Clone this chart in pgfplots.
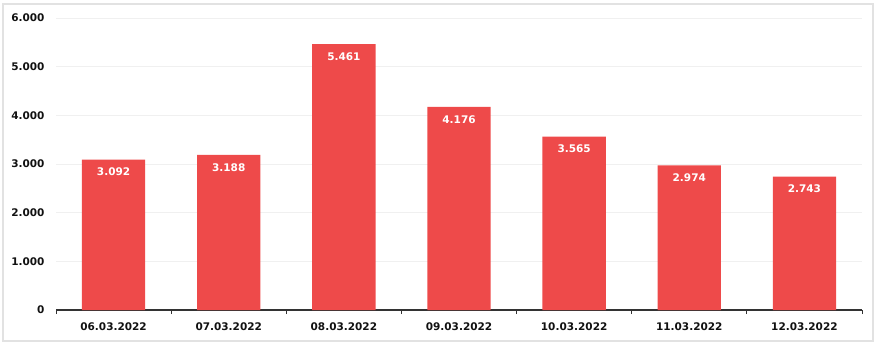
\documentclass[border=0pt]{standalone}
\usepackage{pgfplots}
\pgfplotsset{compat=1.18}
\usepackage{fontspec}
\setmainfont{DejaVu Sans}
\definecolor{barred}{HTML}{EE4A4A}
\definecolor{axisdark}{HTML}{333333}
\definecolor{txt}{HTML}{111111}
\definecolor{bordergray}{HTML}{E2E2E2}
\definecolor{gridgray}{HTML}{F0F0F0}
\begin{document}
\begin{tikzpicture}[x=1pt,y=1pt]
\path[use as bounding box] (-56,-38) rectangle (824,310);
\draw[bordergray, line width=1.2pt] (-53,-31) rectangle (817,306);
\begin{axis}[
  at={(0,0)}, anchor=south west,
  scale only axis,
  width=806pt, height=292pt,
  xmin=-0.5, xmax=6.5,
  ymin=0, ymax=6000,
  axis x line*=bottom,
  axis y line*=left,
  y axis line style={draw=none},
  x axis line style={draw=axisdark, line width=1.3pt},
  ytick={0,1000,...,6000},
  ytick style={draw=none},
  xtick={0,...,6},
  xticklabels={06.03.2022,07.03.2022,08.03.2022,09.03.2022,10.03.2022,11.03.2022,12.03.2022},
  major x tick style={draw=none},
  minor xtick={-0.5,0.5,...,6.5},
  minor x tick style={draw=axisdark, line width=1pt},
  minor tick length=4pt,
  xtick align=outside,
  ymajorgrids,
  grid style={draw=gridgray, line width=0.8pt},
  tick label style={font=\fontsize{10.5}{12}\selectfont\bfseries, text=txt},
  xticklabel style={yshift=-4.5pt},
  yticklabel style={xshift=-8pt},
  /pgf/number format/.cd, 1000 sep={.}, assume math mode=true,
]
\addplot[ybar, bar width=0.55, fill=barred, draw=none,
  nodes near coords,
  nodes near coords style={font=\fontsize{10.5}{12}\selectfont\bfseries, text=white, anchor=north, yshift=-5pt, /pgf/number format/1000 sep={.}, /pgf/number format/assume math mode=true},
] coordinates {(0,3092) (1,3188) (2,5461) (3,4176) (4,3565) (5,2974) (6,2743)};
\end{axis}
\end{tikzpicture}
\end{document}
